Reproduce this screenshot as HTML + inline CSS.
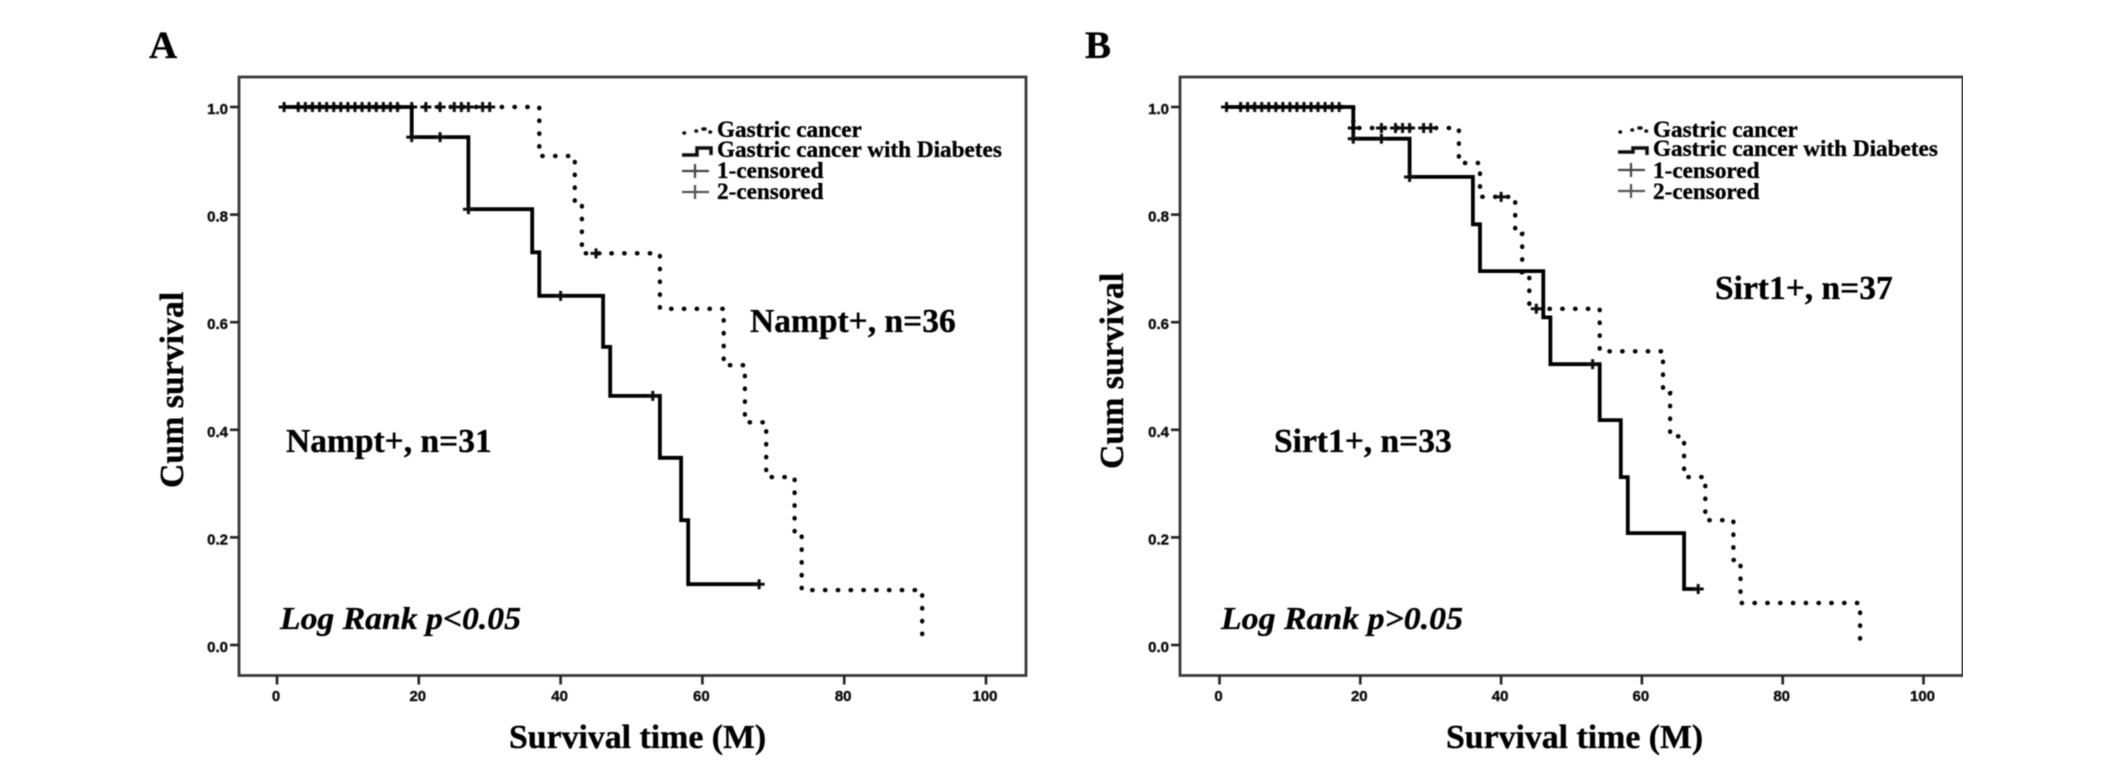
<!DOCTYPE html>
<html lang="en">
<head>
<meta charset="utf-8">
<title>Kaplan-Meier survival curves</title>
<style>
html,body{margin:0;padding:0;background:#fff;}
svg{display:block;}
text{font-family:"Liberation Serif",serif;font-weight:bold;fill:#050505;stroke:#050505;stroke-width:0.35px;}
.tick{font-family:"Liberation Sans",sans-serif;font-size:15px;fill:#111;stroke:#111;stroke-width:0.4px;}
.legend{font-size:23.2px;}
.note{font-size:33.5px;}
.title{font-size:33.8px;}
.logrank{font-size:32px;font-style:italic;}
.panel-label{font-size:39px;fill:#000;}
</style>
</head>
<body>
<svg id="chart" xmlns="http://www.w3.org/2000/svg" width="2126" height="767" viewBox="0 0 2126 767">
<defs><filter id="soft" x="0" y="0" width="100%" height="100%"><feGaussianBlur stdDeviation="0.5"/></filter></defs>
<rect x="0" y="0" width="2126" height="767" fill="#fff"/>
<g id="root" filter="url(#soft)">
  <text class="panel-label" x="149" y="58">A</text>
  <text class="panel-label" x="1085" y="58">B</text>

  <g id="panel-a"></g>
  <g id="panel-b"></g>

  <text class="title" x="509" y="748">Survival time (M)</text>
  <text class="title" transform="translate(183,488) rotate(-90)">Cum survival</text>
  <text class="note" x="286" y="452">Nampt+, n=31</text>
  <text class="note" x="750" y="332">Nampt+, n=36</text>
  <text class="logrank" x="280" y="629" textLength="241" lengthAdjust="spacingAndGlyphs">Log Rank p&lt;0.05</text>

  <g>
    <text class="legend" x="717" y="137">Gastric cancer</text>
    <text class="legend" x="717" y="157">Gastric cancer with Diabetes</text>
    <text class="legend" x="717" y="178">1-censored</text>
    <text class="legend" x="717" y="199">2-censored</text>
    <path d="M684 133H684.5M696 131H696.5M703 129H705M710 132H710.5" fill="none" stroke="#111" stroke-width="3.5" stroke-linecap="round"/>
    <path d="M682 155H697V148H711V155" fill="none" stroke="#111" stroke-width="3.5"/>
    <path d="M682 171H709M695 164V178" fill="none" stroke="#444" stroke-width="2.2"/>
    <path d="M682 192H709M695 185V199" fill="none" stroke="#555" stroke-width="2.2"/>
  </g>

  <text class="title" x="1446" y="748">Survival time (M)</text>
  <text class="title" transform="translate(1123,469) rotate(-90)">Cum survival</text>
  <text class="note" x="1274" y="452">Sirt1+, n=33</text>
  <text class="note" x="1715" y="299">Sirt1+, n=37</text>
  <text class="logrank" x="1221" y="629" textLength="242" lengthAdjust="spacingAndGlyphs">Log Rank p&gt;0.05</text>

  <g>
    <text class="legend" x="1653" y="137">Gastric cancer</text>
    <text class="legend" x="1653" y="156">Gastric cancer with Diabetes</text>
    <text class="legend" x="1653" y="178">1-censored</text>
    <text class="legend" x="1653" y="199">2-censored</text>
    <path d="M1620 132H1620.5M1632 130H1632.5M1639 128H1641M1646 131H1646.5" fill="none" stroke="#111" stroke-width="3.5" stroke-linecap="round"/>
    <path d="M1618 152H1633V148H1647V155" fill="none" stroke="#111" stroke-width="3.5"/>
    <path d="M1618 170H1645M1631 163V177" fill="none" stroke="#444" stroke-width="2.2"/>
    <path d="M1618 191H1645M1631 184V198" fill="none" stroke="#555" stroke-width="2.2"/>
  </g>
</g>
</svg>
<script>
// Axis tick labels
var xTickValues = [0, 20, 40, 60, 80, 100];
var yTickValues = [0.0, 0.2, 0.4, 0.6, 0.8, 1.0];

// Panel A: gastric cancer
var aGastricTimes = [1, 37, 42, 43, 54, 63, 66, 69, 73, 74, 91];
var aGastricSurvival = [1, 0.909, 0.818, 0.728, 0.625, 0.52, 0.414, 0.312, 0.208, 0.102, 0];
var aGastricCensorTimes = [1, 3, 4, 5, 6, 7, 8, 9, 10, 11, 12, 13, 14, 15, 16, 17, 19, 21, 23, 25, 26, 27, 29, 30, 45];
var aGastricCensorSurvival = [1, 1, 1, 1, 1, 1, 1, 1, 1, 1, 1, 1, 1, 1, 1, 1, 1, 1, 1, 1, 1, 1, 1, 1, 0.728];

// Panel A: gastric cancer with diabetes
var aDiabetesTimes = [1, 19, 27, 36, 37, 46, 47, 54, 57, 58, 68];
var aDiabetesSurvival = [1, 0.944, 0.81, 0.73, 0.649, 0.554, 0.463, 0.348, 0.232, 0.113, 0.113];
var aDiabetesCensorTimes = [19, 23, 27, 40, 53, 68];
var aDiabetesCensorSurvival = [0.944, 0.944, 0.81, 0.649, 0.463, 0.113];

// Panel B: gastric cancer
var bGastricTimes = [1, 19, 34, 37, 42, 43, 44, 54, 63, 64, 66, 69, 73, 74, 91];
var bGastricSurvival = [1, 0.961, 0.896, 0.833, 0.764, 0.693, 0.625, 0.546, 0.468, 0.388, 0.312, 0.232, 0.158, 0.078, 0];
var bGastricCensorTimes = [1, 3, 4, 5, 6, 7, 8, 9, 10, 11, 12, 13, 14, 15, 16, 17, 19, 23, 25, 26, 27, 29, 30, 40, 45];
var bGastricCensorSurvival = [1, 1, 1, 1, 1, 1, 1, 1, 1, 1, 1, 1, 1, 1, 1, 1, 0.961, 0.961, 0.961, 0.961, 0.961, 0.961, 0.961, 0.833, 0.625];

// Panel B: gastric cancer with diabetes
var bDiabetesTimes = [1, 19, 27, 36, 37, 46, 47, 54, 57, 58, 66, 68];
var bDiabetesSurvival = [1, 0.941, 0.87, 0.782, 0.695, 0.609, 0.522, 0.418, 0.312, 0.208, 0.104, 0.104];
var bDiabetesCensorTimes = [19, 23, 27, 53, 68];
var bDiabetesCensorSurvival = [0.941, 0.941, 0.87, 0.522, 0.104];

var SVG_NS = 'http://www.w3.org/2000/svg';

function yScale(s) {
  return 645 - 538 * s;
}

function makeXScale(originPx, pxPerUnit) {
  return function (t) {
    return originPx + pxPerUnit * t;
  };
}

function stepPath(times, survival, xScale) {
  var d = 'M' + xScale(times[0]).toFixed(1) + ' ' + yScale(survival[0]).toFixed(1);
  for (var i = 1; i < times.length; i++) {
    d += 'H' + xScale(times[i]).toFixed(1) + 'V' + yScale(survival[i]).toFixed(1);
  }
  return d;
}

function drawCurve(group, times, survival, xScale, dotted, label) {
  var path = document.createElementNS(SVG_NS, 'path');
  path.setAttribute('d', stepPath(times, survival, xScale));
  path.setAttribute('fill', 'none');
  path.setAttribute('stroke', '#050505');
  path.setAttribute('stroke-width', dotted ? '4.4' : '3.8');
  if (dotted) {
    path.setAttribute('stroke-dasharray', '0.4 12.4');
    path.setAttribute('stroke-linecap', 'round');
  }
  
  
  group.appendChild(path);
}

function drawCensors(group, times, survival, xScale, label) {
  for (var i = 0; i < times.length; i++) {
    var cx = xScale(times[i]);
    var cy = yScale(survival[i]);
    var mark = document.createElementNS(SVG_NS, 'path');
    mark.setAttribute('d', 'M' + (cx - 5.5) + ' ' + cy + 'H' + (cx + 5.5) + 'M' + cx + ' ' + (cy - 5) + 'V' + (cy + 5));
    mark.setAttribute('stroke', '#111');
    mark.setAttribute('stroke-width', '3');
    mark.setAttribute('fill', 'none');
    
    
    group.appendChild(mark);
  }
}

function drawAxes(group, left, right, xScale) {
  var top = 77;
  var bottom = 675.5;
  var frame = document.createElementNS(SVG_NS, 'rect');
  frame.setAttribute('x', left);
  frame.setAttribute('y', top);
  frame.setAttribute('width', right - left);
  frame.setAttribute('height', bottom - top);
  frame.setAttribute('fill', 'none');
  frame.setAttribute('stroke', '#3a3a3a');
  frame.setAttribute('stroke-width', '2.8');
  
  
  group.appendChild(frame);

  xTickValues.forEach(function (v) {
    var px = xScale(v);
    var tick = document.createElementNS(SVG_NS, 'line');
    tick.setAttribute('x1', px);
    tick.setAttribute('x2', px);
    tick.setAttribute('y1', bottom);
    tick.setAttribute('y2', bottom + 9);
    tick.setAttribute('stroke', '#222');
    tick.setAttribute('stroke-width', '2.6');
    
    
    group.appendChild(tick);
    var label = document.createElementNS(SVG_NS, 'text');
    label.setAttribute('class', 'tick');
    label.setAttribute('x', px - 1);
    label.setAttribute('y', 701);
    label.setAttribute('text-anchor', 'middle');
    
    
    label.textContent = String(v);
    group.appendChild(label);
  });

  yTickValues.forEach(function (v) {
    var py = yScale(v);
    var tick = document.createElementNS(SVG_NS, 'line');
    tick.setAttribute('x1', left - 9);
    tick.setAttribute('x2', left);
    tick.setAttribute('y1', py);
    tick.setAttribute('y2', py);
    tick.setAttribute('stroke', '#222');
    tick.setAttribute('stroke-width', '2.6');
    
    
    group.appendChild(tick);
    var label = document.createElementNS(SVG_NS, 'text');
    label.setAttribute('class', 'tick');
    label.setAttribute('x', left - 11);
    label.setAttribute('y', py + 7);
    label.setAttribute('text-anchor', 'end');
    
    
    label.textContent = v.toFixed(1);
    group.appendChild(label);
  });
}

var xScaleA = makeXScale(277, 7.09);
var xScaleB = makeXScale(1219.5, 7.04);
var panelA = document.getElementById('panel-a');
var panelB = document.getElementById('panel-b');

drawAxes(panelA, 239, 1026, xScaleA);
drawCurve(panelA, aGastricTimes, aGastricSurvival, xScaleA, true, 'panel-a-gastric-curve');
drawCensors(panelA, aGastricCensorTimes, aGastricCensorSurvival, xScaleA, 'panel-a-gastric-censor-mark');
drawCurve(panelA, aDiabetesTimes, aDiabetesSurvival, xScaleA, false, 'panel-a-diabetes-curve');
drawCensors(panelA, aDiabetesCensorTimes, aDiabetesCensorSurvival, xScaleA, 'panel-a-diabetes-censor-mark');

drawAxes(panelB, 1180, 1963, xScaleB);
drawCurve(panelB, bGastricTimes, bGastricSurvival, xScaleB, true, 'panel-b-gastric-curve');
drawCensors(panelB, bGastricCensorTimes, bGastricCensorSurvival, xScaleB, 'panel-b-gastric-censor-mark');
drawCurve(panelB, bDiabetesTimes, bDiabetesSurvival, xScaleB, false, 'panel-b-diabetes-curve');
drawCensors(panelB, bDiabetesCensorTimes, bDiabetesCensorSurvival, xScaleB, 'panel-b-diabetes-censor-mark');
</script>
</body>
</html>
